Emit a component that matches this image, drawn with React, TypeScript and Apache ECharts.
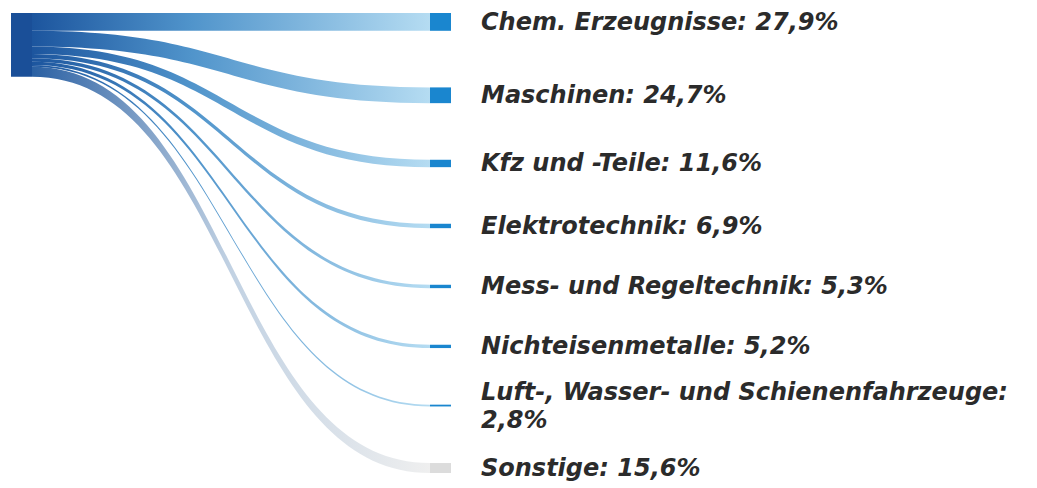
import React, { useEffect, useRef } from "react";
import * as echarts from "echarts";

const sourceName = "Gesamt";
const categories = [
  "Chem. Erzeugnisse",
  "Maschinen",
  "Kfz und -Teile",
  "Elektrotechnik",
  "Mess- und Regeltechnik",
  "Nichteisenmetalle",
  "Luft-, Wasser- und Schienenfahrzeuge",
  "Sonstige",
];
const shares = [27.9, 24.7, 11.6, 6.9, 5.3, 5.2, 2.8, 15.6];

const BLUE_NODE = "#1a86cf";
const GREY_NODE = "#dcdcdc";

const fmt = (v: number) => v.toFixed(1).replace(".", ",") + "%";

export default function App() {
  const ref = useRef<HTMLDivElement>(null);
  useEffect(() => {
    if (!ref.current) return;
    const chart = echarts.init(ref.current, null, { renderer: "svg" });
    const isOther = (n: string) => n === "Sonstige";
    const nodes = [
      {
        name: sourceName,
        itemStyle: { color: "#1a4f98" },
        label: { show: false },
      },
      ...categories.map((c) => ({
        name: c,
        itemStyle: { color: isOther(c) ? GREY_NODE : BLUE_NODE },
      })),
    ];
    const links = categories.map((c, i) => ({
      source: sourceName,
      target: c,
      value: shares[i],
      lineStyle: {
        color: {
          type: "linear",
          x: 0,
          y: 0,
          x2: 1,
          y2: 0,
          colorStops: isOther(c)
            ? [
                { offset: 0, color: "#2a60a3" },
                { offset: 0.5, color: "#c2d2e3" },
                { offset: 1, color: "#efefef" },
              ]
            : [
                { offset: 0, color: "#1c559e" },
                { offset: 0.4, color: "#5094cb" },
                { offset: 1, color: "#b5dcf2" },
              ],
        },
      },
    }));
    chart.setOption({
      animation: false,
      tooltip: { show: false },
      series: [
        {
          type: "sankey",
          left: 11,
          top: 13,
          width: 440,
          height: 460,
          nodeWidth: 21,
          nodeGap: 56.6,
          layoutIterations: 0,
          draggable: false,
          emphasis: { disabled: true },
          data: nodes,
          links,
          itemStyle: { borderWidth: 0 },
          lineStyle: { opacity: 1, curveness: 0.5 },
          label: {
            show: true,
            position: "right",
            distance: 30,
            color: "#2b2b2b",
            fontFamily: "DejaVu Sans",
            fontStyle: "italic",
            fontWeight: "bold",
            fontSize: 24,
            lineHeight: 28,
            formatter: (p: any) => {
              const txt = `${p.name}: ${fmt(p.value)}`;
              return txt.length > 40 ? `${p.name}:\n${fmt(p.value)}` : txt;
            },
          },
        },
      ],
    });
    return () => chart.dispose();
  }, []);
  return (
    <div style={{ position: "fixed", left: 0, top: 0, width: 1037, height: 488, background: "#fff" }}>
      <div ref={ref} style={{ width: 1037, height: 488 }} />
    </div>
  );
}
